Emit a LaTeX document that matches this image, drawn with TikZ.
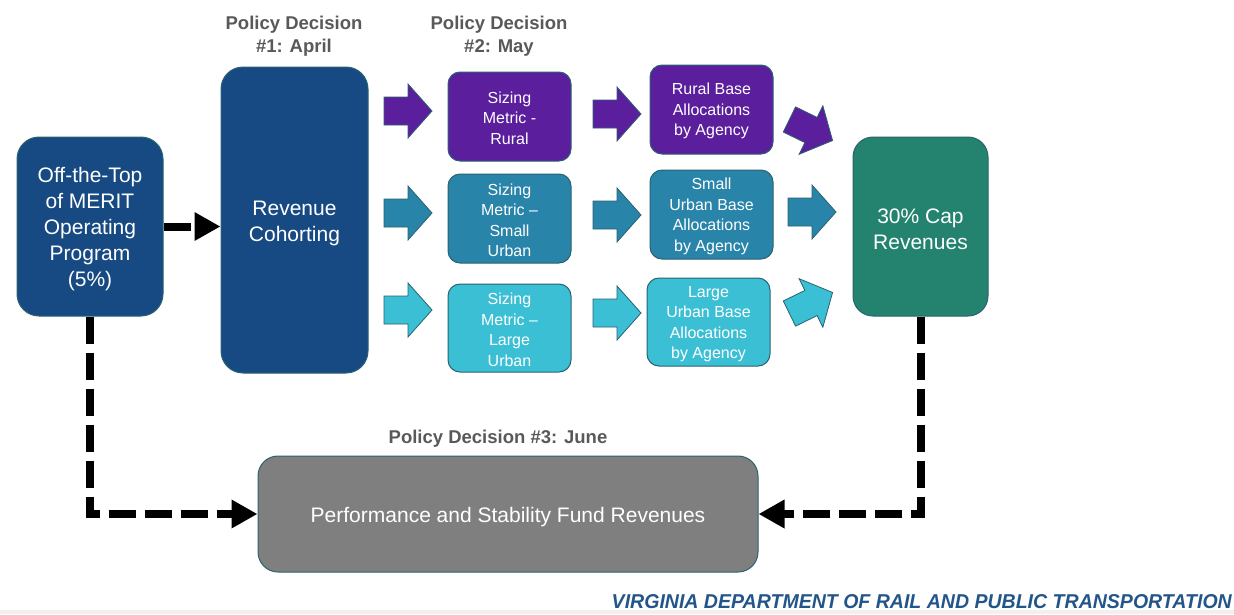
\documentclass[tikz,border=0pt]{standalone}
\usepackage{fontspec}
\setmainfont{Liberation Sans}
\usetikzlibrary{arrows.meta}
\definecolor{dkblue}{HTML}{174A82}
\definecolor{purp}{HTML}{5B1E9C}
\definecolor{midblue}{HTML}{2884A8}
\definecolor{cyanb}{HTML}{3BBFD4}
\definecolor{tealg}{HTML}{24836F}
\definecolor{grayb}{HTML}{7F7F7F}
\definecolor{edgec}{HTML}{2A6272}
\definecolor{lblgray}{HTML}{595959}
\definecolor{footblue}{HTML}{23558A}
\newcommand{\bst}{\rule{0pt}{21pt}}
\newcommand{\sst}{\rule{0pt}{15pt}}
\tikzset{
  box/.style={draw=edgec, line width=1pt, rounded corners=#1, text=white, align=center, inner sep=0pt},
  bigtxt/.style={font=\fontsize{21}{26}\selectfont},
  smalltxt/.style={font=\fontsize{16}{20.5}\selectfont},
  lbl/.style={font=\fontsize{18.5}{22.5}\selectfont\bfseries, text=lblgray, align=center, inner sep=0pt},
  dashline/.style={line width=8pt, dash pattern=on 27pt off 9pt, line join=miter, -{Triangle[length=26pt,width=27pt]}},
  fat/.pic={\path[fill=#1, draw=edgec, line width=0.8pt] (-24,-14) -- (0,-14) -- (0,-27) -- (24,0) -- (0,27) -- (0,14) -- (-24,14) -- cycle;}
}
\begin{document}
\begin{tikzpicture}[x=1pt,y=-1pt]
\useasboundingbox (0,0) rectangle (1234,614);
\fill[white] (0,0) rectangle (1234,614);
\fill[gray!12] (0,610) rectangle (1234,614);

% main boxes
\node[box=22pt, fill=dkblue, bigtxt, minimum width=146pt, minimum height=179pt] (off) at (90,226.5) {\bst Off-the-Top\\of MERIT\\Operating\\Program\\(5\%)};
\node[box=22pt, fill=dkblue, bigtxt, minimum width=147pt, minimum height=306pt] (rev) at (294.5,220) {\bst Revenue\\Cohorting};

\node[box=12pt, fill=purp, smalltxt, minimum width=123pt, minimum height=89pt] (sm1) at (509.5,116.5) {\sst Sizing\\Metric -\\Rural};
\node[box=12pt, fill=midblue, smalltxt, minimum width=123pt, minimum height=89pt] (sm2) at (509.5,218.5) {\sst Sizing\\Metric --\\Small\\Urban};
\node[box=12pt, fill=cyanb, smalltxt, minimum width=123pt, minimum height=88pt] (sm3) at (509.5,328) {\sst Sizing\\Metric --\\Large\\Urban};

\node[box=12pt, fill=purp, smalltxt, minimum width=123pt, minimum height=89pt] (al1) at (711.5,109.5) {\sst Rural Base\\Allocations\\by Agency};
\node[box=12pt, fill=midblue, smalltxt, minimum width=123pt, minimum height=89pt] (al2) at (711.5,214.5) {\sst Small\\Urban Base\\Allocations\\by Agency};
\node[box=12pt, fill=cyanb, smalltxt, minimum width=123pt, minimum height=88pt] (al3) at (708.5,322) {\sst Large\\Urban Base\\Allocations\\by Agency};

\node[box=20pt, fill=tealg, bigtxt, minimum width=135pt, minimum height=179pt] (cap) at (920.5,226.5) {\bst 30\% Cap\\Revenues};

\node[box=20pt, fill=grayb, bigtxt, minimum width=500pt, minimum height=116pt] (perf) at (508,514) {\bst Performance and Stability Fund Revenues};

% labels
\node[lbl] (l1) at (294,36) {Policy Decision\\\#1: April};
\node[lbl] (l2) at (499,36) {Policy Decision\\\#2: May};
\node[lbl] (l3) at (498,439) {Policy Decision \#3: June};

% fat arrows
\pic at (408,111) {fat=purp};
\pic at (408,213) {fat=midblue};
\pic at (408,310) {fat=cyanb};
\pic at (617,114) {fat=purp};
\pic at (617,215) {fat=midblue};
\pic at (617,313) {fat=cyanb};
\pic[rotate=-26] at (811,130) {fat=purp};
\pic at (812,212) {fat=midblue};
\pic[rotate=26] at (811,303) {fat=cyanb};

% dashed connectors
\draw[dashline] (off.east) -- (rev.west |- off.east);
\draw[dashline] (off.south) -- (off.south |- perf.west) -- (perf.west);
\draw[dashline] (cap.south) -- (cap.south |- perf.east) -- (perf.east);

% footer
\node[anchor=south east, inner sep=0pt, text=footblue] (foot) at (1232,609)
  {\resizebox{620pt}{14pt}{\bfseries\itshape VIRGINIA DEPARTMENT OF RAIL AND PUBLIC TRANSPORTATION}};
\end{tikzpicture}
\end{document}
